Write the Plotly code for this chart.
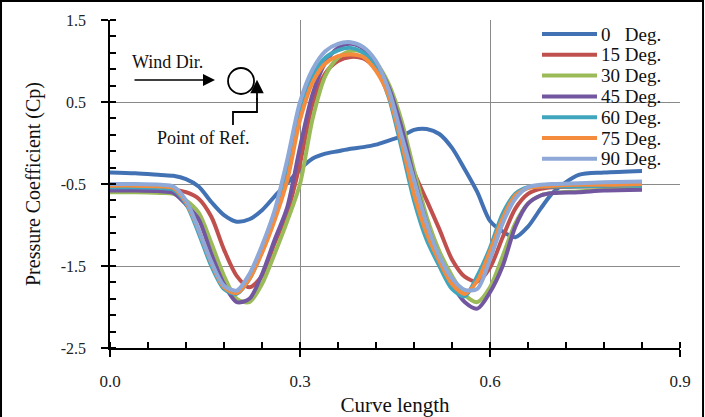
import plotly.graph_objects as go

# ---------------- data ----------------
curve_length = [0.00, 0.04, 0.08, 0.10, 0.12, 0.14, 0.16, 0.18, 0.20, 0.22, 0.24, 0.26,
                0.28, 0.30, 0.32, 0.34, 0.36, 0.38, 0.40, 0.42, 0.44, 0.46, 0.48, 0.50,
                0.52, 0.54, 0.56, 0.58, 0.60, 0.62, 0.64, 0.66, 0.68, 0.70, 0.74, 0.78, 0.84]

cp_0 = [-0.36, -0.37, -0.39, -0.40, -0.44, -0.53, -0.72, -0.88, -0.96, -0.93, -0.82, -0.65,
        -0.49, -0.32, -0.19, -0.13, -0.10, -0.07, -0.05, -0.02, 0.03, 0.08, 0.16, 0.17,
        0.11, -0.06, -0.32, -0.60, -0.95, -1.08, -1.15, -1.02, -0.80, -0.60, -0.39, -0.36, -0.34]

cp_15 = [-0.55, -0.55, -0.56, -0.57, -0.60, -0.68, -0.90, -1.30, -1.62, -1.76, -1.62, -1.22,
         -0.85, -0.25, 0.48, 0.85, 1.00, 1.05, 1.03, 0.90, 0.64, 0.20, -0.35, -0.70,
         -1.05, -1.42, -1.63, -1.69, -1.52, -1.15, -0.80, -0.62, -0.56, -0.54, -0.53, -0.53, -0.52]

cp_30 = [-0.60, -0.60, -0.61, -0.62, -0.70, -0.85, -1.22, -1.62, -1.90, -1.94, -1.72, -1.35,
         -0.95, -0.50, 0.30, 0.82, 1.04, 1.12, 1.11, 0.98, 0.72, 0.28, -0.33, -0.90,
         -1.32, -1.62, -1.85, -1.94, -1.76, -1.38, -0.98, -0.74, -0.64, -0.61, -0.59, -0.57, -0.56]

cp_45 = [-0.58, -0.58, -0.59, -0.61, -0.75, -0.93, -1.35, -1.72, -1.94, -1.90, -1.60, -1.18,
         -0.78, -0.05, 0.60, 0.98, 1.16, 1.21, 1.15, 0.97, 0.68, 0.20, -0.42, -0.98,
         -1.40, -1.72, -1.94, -2.02, -1.82, -1.50, -1.02, -0.74, -0.64, -0.61, -0.60, -0.58, -0.57]

cp_60 = [-0.54, -0.54, -0.55, -0.57, -0.74, -1.10, -1.50, -1.78, -1.84, -1.66, -1.32, -0.90,
         -0.33, 0.40, 0.82, 1.04, 1.13, 1.16, 1.10, 0.92, 0.56, -0.05, -0.70, -1.18,
         -1.50, -1.78, -1.87, -1.62, -1.28, -0.86, -0.62, -0.54, -0.53, -0.53, -0.53, -0.52, -0.52]

cp_75 = [-0.52, -0.52, -0.53, -0.55, -0.72, -1.06, -1.46, -1.76, -1.83, -1.66, -1.34, -0.94,
         -0.45, 0.28, 0.74, 0.97, 1.06, 1.08, 1.05, 0.88, 0.58, 0.02, -0.62, -1.10,
         -1.44, -1.72, -1.84, -1.68, -1.32, -0.92, -0.64, -0.55, -0.53, -0.52, -0.51, -0.51, -0.50]

cp_90 = [-0.50, -0.50, -0.51, -0.53, -0.70, -1.06, -1.45, -1.74, -1.80, -1.60, -1.25, -0.82,
         -0.20, 0.50, 0.90, 1.12, 1.21, 1.23, 1.17, 1.00, 0.65, 0.10, -0.45, -0.98,
         -1.38, -1.65, -1.79, -1.78, -1.42, -0.98, -0.68, -0.54, -0.51, -0.50, -0.49, -0.48, -0.47]

series_names = ["0\u2007 Deg.", "15 Deg.", "30 Deg.", "45 Deg.", "60 Deg.", "75 Deg.", "90 Deg."]
series_values = [cp_0, cp_15, cp_30, cp_45, cp_60, cp_75, cp_90]
series_colors = ["#4272B4", "#C0504D", "#9BBB59", "#7356A0", "#3FA6BE", "#F58B3C", "#8EA8D8"]

x_tick_vals = [0.0, 0.3, 0.6, 0.9]
x_tick_text = ["0.0", "0.3", "0.6", "0.9"]
y_tick_vals = [1.5, 0.5, -0.5, -1.5, -2.5]
y_tick_text = ["1.5", "0.5", "-0.5", "-1.5", "-2.5"]

SERIF = "'Liberation Serif', 'Times New Roman', Times, serif"

fig = go.Figure()
for name, vals, col in zip(series_names, series_values, series_colors):
    fig.add_trace(go.Scatter(
        x=curve_length, y=vals, name=name, mode="lines", showlegend=False,
        line=dict(color=col, width=4, shape="spline", smoothing=0.8),
    ))

fig.update_layout(
    width=705, height=417,
    margin=dict(l=110, r=25, t=20, b=69, autoexpand=False),
    paper_bgcolor="white", plot_bgcolor="white",
    font=dict(family=SERIF, color="#222222", size=16),
    showlegend=False,
    xaxis=dict(
        range=[0, 0.9], tickmode="array", tickvals=x_tick_vals, ticktext=x_tick_text,
        showgrid=True, gridcolor="#8a8a8a", gridwidth=1,
        showline=True, linecolor="black", linewidth=1.5,
        ticks="outside", ticklen=7, tickcolor="black", tickwidth=1.5,
        ticklabelstandoff=10, tickfont=dict(family=SERIF, size=17),
        minor=dict(tickmode="linear", tick0=0, dtick=0.06, ticks="inside",
                   ticklen=6, tickcolor="black", tickwidth=1.5, showgrid=False),
        zeroline=False, automargin=False,
        title=dict(text="Curve length", font=dict(family=SERIF, size=21, color="#111111")),
    ),
    yaxis=dict(
        range=[-2.5, 1.5], tickmode="array", tickvals=y_tick_vals, ticktext=y_tick_text,
        showgrid=True, gridcolor="#8a8a8a", gridwidth=1,
        showline=True, linecolor="black", linewidth=1.5,
        ticks="outside", ticklen=7, tickcolor="black", tickwidth=1.5,
        ticklabelstandoff=12, tickfont=dict(family=SERIF, size=16),
        minor=dict(tickmode="linear", tick0=1.5, dtick=0.2, ticks="inside",
                   ticklen=6, tickcolor="black", tickwidth=1.5, showgrid=False),
        zeroline=False, automargin=False,
        title=dict(text="Pressure Coefficient (Cp)", font=dict(family=SERIF, size=20, color="#111111")),
    ),
)

# legend (drawn inside the plot area, Excel style)
PLOT_L, PLOT_W, PLOT_B, PLOT_H = 110, 570, 348, 328
def px2paper(px, py):
    return (px - PLOT_L) / PLOT_W, (PLOT_B - py) / PLOT_H

for i, (name, col) in enumerate(zip(series_names, series_colors)):
    py = 34 + i * 20.8
    xa, ya = px2paper(542, py)
    xb, _ = px2paper(597, py)
    fig.add_shape(type="line", xref="paper", yref="paper", x0=xa, x1=xb, y0=ya, y1=ya,
                  line=dict(color=col, width=4))
    xt, _ = px2paper(599, py)
    fig.add_annotation(xref="paper", yref="paper", x=xt, y=ya, xanchor="left", yanchor="middle",
                       text=name, showarrow=False,
                       font=dict(family=SERIF, size=19, color="#111111"))

# outer frame of the picture
fig.add_shape(type="rect", xref="paper", yref="paper",
              x0=-0.1912, x1=1.0404, y0=-0.23, y1=1.0579,
              line=dict(color="black", width=2), layer="above")

# wind-direction sketch
fig.add_annotation(x=0.09, y=0.988, text="Wind Dir.", showarrow=False,
                   font=dict(family=SERIF, size=18, color="#111111"))
fig.add_annotation(x=0.1658, y=0.768, ax=-82, ay=0, text="", showarrow=True,
                   arrowhead=2, arrowsize=1.5, arrowwidth=1.6, arrowcolor="black", standoff=0)
fig.add_shape(type="circle", xref="x", yref="y", xsizemode="pixel", ysizemode="pixel",
              xanchor=0.2069, yanchor=0.756, x0=-13, x1=13, y0=-13, y1=13,
              line=dict(color="black", width=1.8))
fig.add_shape(type="path", xref="x", yref="y",
              path="M 0.1942,0.2195 L 0.1942,0.378 L 0.2321,0.378 L 0.2321,0.55",
              line=dict(color="black", width=1.8))
fig.add_annotation(x=0.2321, y=0.77, ax=0, ay=22, text="", showarrow=True,
                   arrowhead=2, arrowsize=1.5, arrowwidth=1.8, arrowcolor="black", standoff=0)
fig.add_annotation(x=0.1484, y=0.061, text="Point of Ref.", showarrow=False,
                   font=dict(family=SERIF, size=18, color="#111111"))

fig.write_html("out.html", config={"displayModeBar": False},
               post_script="document.body.style.margin='0px';document.body.style.padding='0px';")
